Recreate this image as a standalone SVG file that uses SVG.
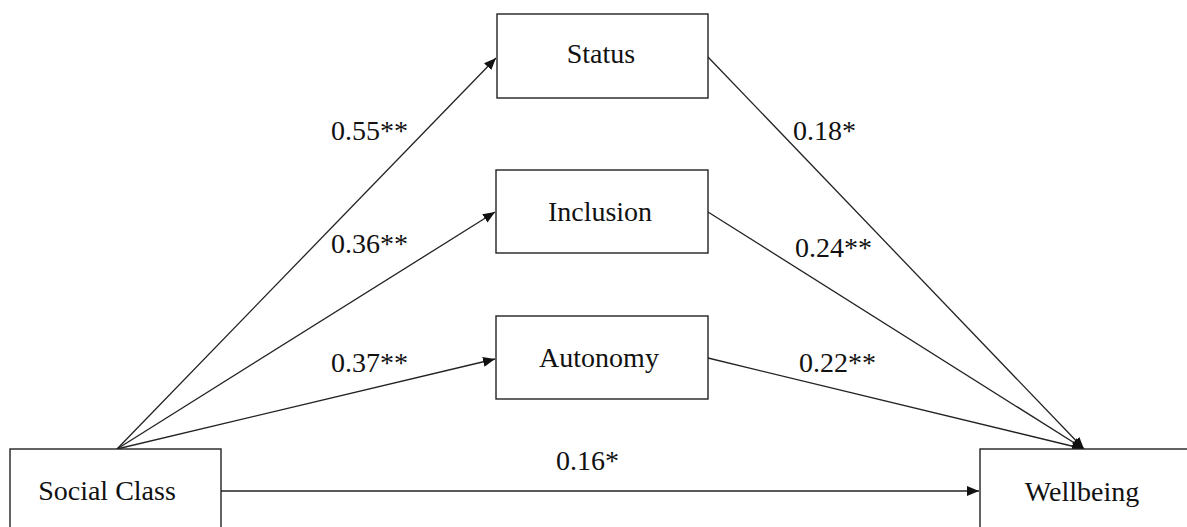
<svg xmlns="http://www.w3.org/2000/svg" width="1187" height="527" viewBox="0 0 1187 527">
<style>
.box{fill:#fff;stroke:#222;stroke-width:1.4}
.lbl{font-family:"Liberation Serif","Times New Roman",serif;font-size:28px;fill:#111}
.coef{font-family:"Liberation Serif","Times New Roman",serif;font-size:28px;fill:#111}
.edge{stroke:#222;stroke-width:1.3;fill:none}
</style>
<defs>
<marker id="arr" viewBox="0 0 12 10" refX="12" refY="5" markerWidth="12" markerHeight="10" markerUnits="userSpaceOnUse" orient="auto">
<path d="M0,0 L12,5 L0,10 z" fill="#111"/>
</marker>
</defs>
<rect width="1187" height="527" fill="#fff"/>
<g id="connectors">
<line class="edge" x1="117" y1="449" x2="496" y2="58" marker-end="url(#arr)"/>
<line class="edge" x1="117" y1="449" x2="495" y2="212" marker-end="url(#arr)"/>
<line class="edge" x1="117" y1="449" x2="495" y2="359" marker-end="url(#arr)"/>
<line class="edge" x1="708" y1="57" x2="1084" y2="449" marker-end="url(#arr)"/>
<line class="edge" x1="708" y1="212" x2="1084" y2="449" marker-end="url(#arr)"/>
<line class="edge" x1="708" y1="358" x2="1084" y2="449" marker-end="url(#arr)"/>
<line class="edge" x1="221" y1="491" x2="979" y2="491" marker-end="url(#arr)"/>
<text class="coef" x="331" y="140">0.55**</text>
<text class="coef" x="331" y="253">0.36**</text>
<text class="coef" x="331" y="372">0.37**</text>
<text class="coef" x="793" y="140">0.18*</text>
<text class="coef" x="795" y="257">0.24**</text>
<text class="coef" x="799" y="372">0.22**</text>
<text class="coef" x="556" y="470">0.16*</text>
</g>
<g id="status">
<rect class="box" x="497" y="14" width="211" height="84"/>
<text class="lbl" x="601" y="63" text-anchor="middle">Status</text>
</g>
<g id="inclusion">
<rect class="box" x="496" y="170" width="212" height="83"/>
<text class="lbl" x="600" y="221" text-anchor="middle">Inclusion</text>
</g>
<g id="autonomy">
<rect class="box" x="496" y="316" width="212" height="83"/>
<text class="lbl" x="599" y="367" text-anchor="middle">Autonomy</text>
</g>
<g id="social-class">
<rect class="box" x="10" y="449" width="211" height="100"/>
<text class="lbl" x="107" y="500" text-anchor="middle">Social Class</text>
</g>
<g id="wellbeing">
<rect class="box" x="980" y="449" width="230" height="100"/>
<text class="lbl" x="1082" y="501" text-anchor="middle">Wellbeing</text>
</g>
</svg>
